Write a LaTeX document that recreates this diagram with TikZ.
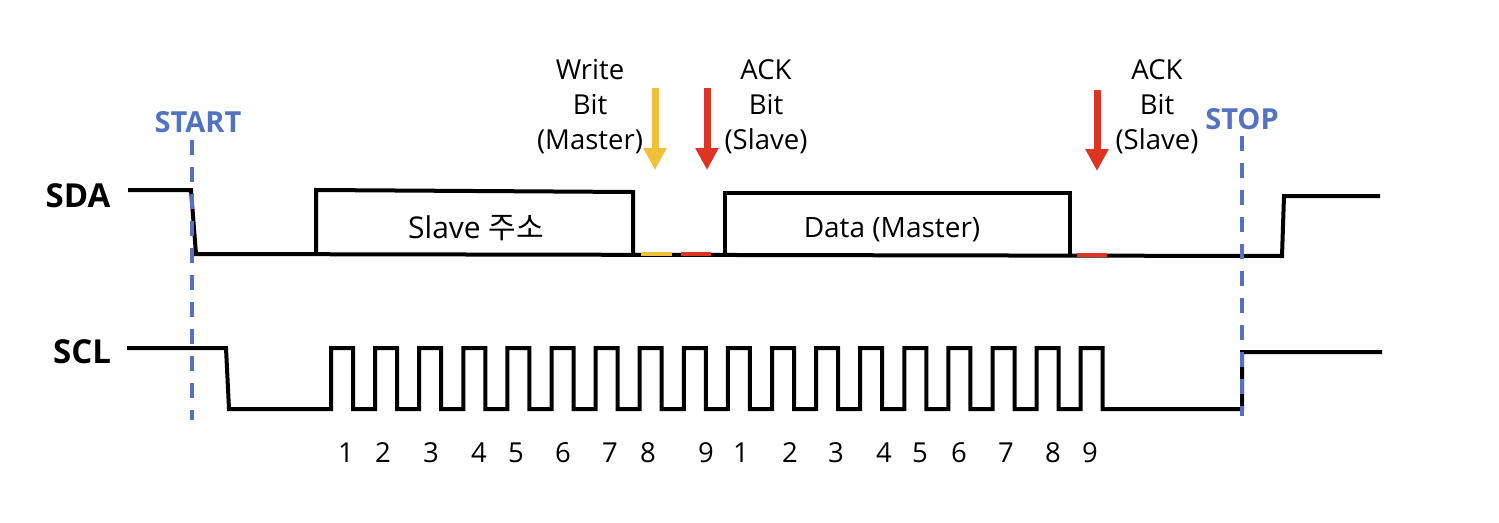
\documentclass[tikz,border=0pt]{standalone}
\usepackage{fontspec}
\setmainfont{Open Sans}
\newfontfamily\krfont{Noto Sans CJK KR}
\usepackage{tikz}
\usetikzlibrary{arrows.meta}
\definecolor{BusBlue}{RGB}{84,114,196}
\definecolor{WrYellow}{RGB}{240,192,56}
\definecolor{AckRed}{RGB}{222,52,36}
\tikzset{
  sig/.style={draw=black,line width=4pt,line join=miter},
  cond/.style={draw=BusBlue,line width=4pt,dash pattern=on 15pt off 12pt},
  bitseg/.style={line width=4pt},
  pointer/.style={line width=7pt,-{Triangle[width=22pt,length=22pt]}},
  txt/.style={font=\fontsize{27.5}{35}\selectfont,align=center,inner sep=0pt},
  bus/.style={font=\fontsize{33}{38}\selectfont\bfseries,inner sep=0pt},
  condtxt/.style={font=\fontsize{29}{34}\selectfont\bfseries,text=BusBlue,inner sep=0pt},
}

\begin{document}
\begin{tikzpicture}[x=1pt,y=-1pt]
\useasboundingbox (0,0) rectangle (1499,522);
% START / STOP
\node[condtxt] (start) at (198,122) {START};
\node[condtxt] (stop) at (1242,119) {STOP};
\coordinate (st1) at (192,140);
\coordinate (st2) at (192,420);
\coordinate (sp1) at (1242,136);
\coordinate (sp2) at (1242,416);
% SDA
\node[bus] (sda) at (78,196) {SDA};
\draw[sig] (128,190) -- (191,190) -- (196,254) -- (1282,256) -- (1284,196) -- (1380,196);
\draw[sig] (316,254) -- (316,190) -- (633,192) -- (633,254);
\draw[sig] (725,254) -- (725,193) -- (1070,193) -- (1070,255);
\draw[bitseg,WrYellow] (641,254) -- (672,254);
\draw[bitseg,AckRed] (681,254) -- (711,254);
\draw[bitseg,AckRed] (1077,255) -- (1107,255);
\node[txt,font=\fontsize{30}{35}\selectfont] (addr) at (476,228) {Slave {\krfont 주소}};
\node[txt,font=\fontsize{28}{35}\selectfont] (data) at (892,230) {Data (Master)};
% SCL
\node[bus] (scl) at (82,352) {SCL};
\draw[sig] (127,348) -- (226,348) -- (229,409) -- (331,409)
  foreach \i in {0,...,17}{ -- ({331+44.1*\i},409) -- ++(0,-61) -- ++(22,0) -- ++(0,61) }
  -- (1242,409) -- (1242,352) -- (1382,352);
\foreach \x/\n in {346/1,383/2,431/3,479/4,516/5,563/6,610/7,648/8,706/9,
  741/1,790/2,836/3,884/4,920/5,959/6,1006/7,1053/8,1090/9}
  \node[txt] (n\x) at (\x,453) {\n};
% start/stop lines on top
\draw[cond] (st1) -- (st2);
\draw[cond] (sp1) -- (sp2);
% bit pointers
\node[txt] (wlbl) at (590,107) {Write\\Bit\\(Master)};
\node[txt] (alb1) at (766,107) {ACK\\Bit\\(Slave)};
\node[txt] (alb2) at (1157,107) {ACK\\Bit\\(Slave)};
\coordinate (w1) at (655,88);
\coordinate (w2) at (655,170);
\coordinate (a1) at (707,88);
\coordinate (a2) at (707,170);
\coordinate (b1) at (1097,90);
\coordinate (b2) at (1097,171);
\draw[pointer,WrYellow] (w1) -- (w2);
\draw[pointer,AckRed] (a1) -- (a2);
\draw[pointer,AckRed] (b1) -- (b2);
\end{tikzpicture}
\end{document}
